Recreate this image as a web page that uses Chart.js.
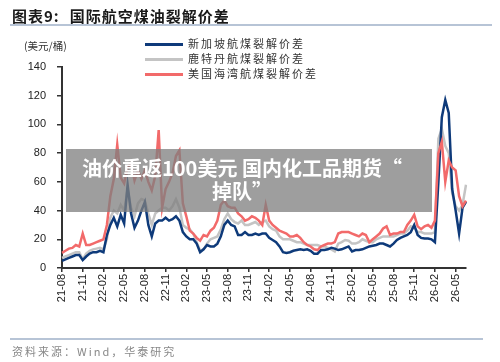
<!DOCTYPE html>
<html><head><meta charset="utf-8">
<script src="https://cdn.jsdelivr.net/npm/chart.js@4"></script>
<style>
html,body{margin:0;padding:0;background:#fff;}
#wrap{position:relative;width:500px;height:362px;overflow:hidden;font-family:"Noto Sans CJK SC","Liberation Sans",sans-serif;}
#c{position:absolute;left:0;top:0;}
.title{position:absolute;left:12px;top:5px;font-size:15px;font-weight:bold;color:#1a1a1a;letter-spacing:1px;white-space:nowrap;}
.title span{margin-left:10px;}
.hline{position:absolute;height:2px;background:#b7c4d6;}
.unit{position:absolute;left:24px;top:38px;font-size:10.5px;color:#333;}
.leg{position:absolute;left:145px;font-size:11px;color:#333;letter-spacing:2px;white-space:nowrap;}
.leg i{display:inline-block;width:38px;height:3px;vertical-align:middle;margin-right:5px;position:relative;top:-1px;}
.src{position:absolute;left:12px;top:343px;font-size:11px;color:#888;letter-spacing:2px;white-space:nowrap;}
.ov{position:absolute;left:66px;top:149px;width:366px;height:63px;background:rgba(128,128,128,0.76);z-index:5;color:#fff;font-weight:bold;font-size:20px;text-align:center;line-height:23px;padding-top:7px;padding-right:14px;box-sizing:border-box;font-family:"Noto Sans CJK SC",sans-serif;white-space:nowrap;}
</style></head>
<body><div id="wrap">
<canvas id="c" width="500" height="362"></canvas>
<div class="title">图表9:<span>国际航空煤油裂解价差</span></div>
<div class="hline" style="left:10px;top:24px;width:482px;"></div>
<div class="unit">(美元/桶)</div>
<div class="leg" style="top:35px;"><i style="background:#0e3a7a"></i>新加坡航煤裂解价差</div>
<div class="leg" style="top:50px;"><i style="background:#c4c4c4"></i>鹿特丹航煤裂解价差</div>
<div class="leg" style="top:65px;"><i style="background:#f26a6a"></i>美国海湾航煤裂解价差</div>
<div class="hline" style="left:10px;top:338px;width:473px;"></div>
<div class="src">资料来源：Wind，华泰研究</div>
<div class="ov">油价重返100美元 国内化工品期货“<br>掉队”</div>
</div>
<script>
const tickLabels = ["21-08","21-11","22-02","22-05","22-08","22-11","23-02","23-05","23-08","23-11","24-02","24-05","24-08","24-11","25-02","25-05","25-08","25-11","26-02","26-05"];

const singapore = [5,6,7,8,9,9,5.5,8,10,11,11,12,11,
 23,30,35,29,37,31,58,38,28,33,40,46,30,22,31,33,
 33,35,33,34,36,33,25,22,20,20,17,11,13,16,15,15,17,22,30,33,30,29,23,23,25,23,23,24,23,24,24,21,19.5,
 18,15,11,10.5,11,12,12.5,13,12.5,13,12,10,10,12.5,12.5,13,14,13.5,12.5,13,14,15,11.5,12.5,12.5,13,14,15,15.5,16,17,17,16,15,17,19.5,21,22,23,25,30,23,21,20.5,20.5,20,18,
 60,105,117,108,55,40,24,42,46];

const rotterdam = [7,8,9,10,11,11,6,10,12,13,13.5,14,13,
 20,35,40,38,44,40,55,42,36,45,48,47,38,30,38,40,
 42,42,40,43,48,42,30,28,27,24,18,12,13,17,20,21,22,27,34,38,34,32,31,33,30,30,31,32,30,32,33,29,27,
 26,22,20,20,20,19,18,18,17,16,16,16,16,15,15,14,13,11.5,17,18,19.5,19,17,17,18,20,19,18,18,20,21,22,22,22,22,23,24,24,26,29,28,25,25,24,24,24,25,
 90,97,85,80,52,43,40,44,58];

const usGulf = [10.5,12,13.5,14,16,15,24,16,16,17,18,19,20,
 30,50,62,86,63,59,70,73,61,68,62,68,60,54,64,96,
 42,55,60,66,78,82,45,36,26,24,21,19,23,22,26,28,33,44,47,43,42,42,38,36,33,34,36,35,33,30,44,33,30,
 28,26,25,24,22,22,23,21,18,16,15,13,12.5,15,16,17,17,18,24,25,25,25,24,23,22,24,23,18,20,22,24,27.5,29,23,24,24,25,25,30,33,37,29,27,29,30,28,33,
 80,88,60,75,70,68,50,43,47];

// half-month periods starting 2021-08
const categories = [];
for (let i = 0; i < singapore.length; i++) {
  const m = 7 + Math.floor(i / 2);
  const y = 21 + Math.floor(m / 12);
  const mm = (m % 12) + 1;
  categories.push(y + "-" + String(mm).padStart(2, "0") + (i % 2 ? "b" : "a"));
}

const axisColor = "#333";
const tickFont = {family: "Liberation Sans", size: 11};

new Chart(document.getElementById("c"), {
  type: "line",
  data: {
    labels: categories,
    datasets: [
      {label: "新加坡航煤裂解价差", data: singapore, borderColor: "#0e3a7a", borderWidth: 2.5, pointRadius: 0, order: 2},
      {label: "鹿特丹航煤裂解价差", data: rotterdam, borderColor: "#c4c4c4", borderWidth: 2.5, pointRadius: 0, order: 3},
      {label: "美国海湾航煤裂解价差", data: usGulf, borderColor: "#f26a6a", borderWidth: 2.5, pointRadius: 0, order: 1}
    ]
  },
  options: {
    responsive: false,
    animation: false,
    layout: {padding: {left: 0, top: 67, right: 34, bottom: 54}},
    plugins: {legend: {display: false}, tooltip: {enabled: false}},
    elements: {line: {tension: 0}},
    scales: {
      x: {
        type: "category",
        offset: false,
        afterFit: s => { s.height = 40; },
        border: {color: axisColor, width: 2},
        grid: {drawOnChartArea: false, tickLength: 4, lineWidth: 1.5,
               color: ctx => (ctx.index % 6 === 0 ? axisColor : "rgba(0,0,0,0)")},
        ticks: {autoSkip: false, maxRotation: 90, minRotation: 90, padding: 2, color: "#222", font: tickFont,
                callback: (v, i) => (i % 6 === 0 ? tickLabels[i / 6] : "")}
      },
      y: {
        min: 0, max: 140,
        afterFit: s => { s.width = 62; },
        border: {color: axisColor, width: 2},
        grid: {drawOnChartArea: false, tickLength: 5, color: axisColor, lineWidth: 1.5},
        ticks: {stepSize: 20, padding: 11, color: "#222", font: tickFont}
      }
    }
  }
});
</script>
</body></html>
